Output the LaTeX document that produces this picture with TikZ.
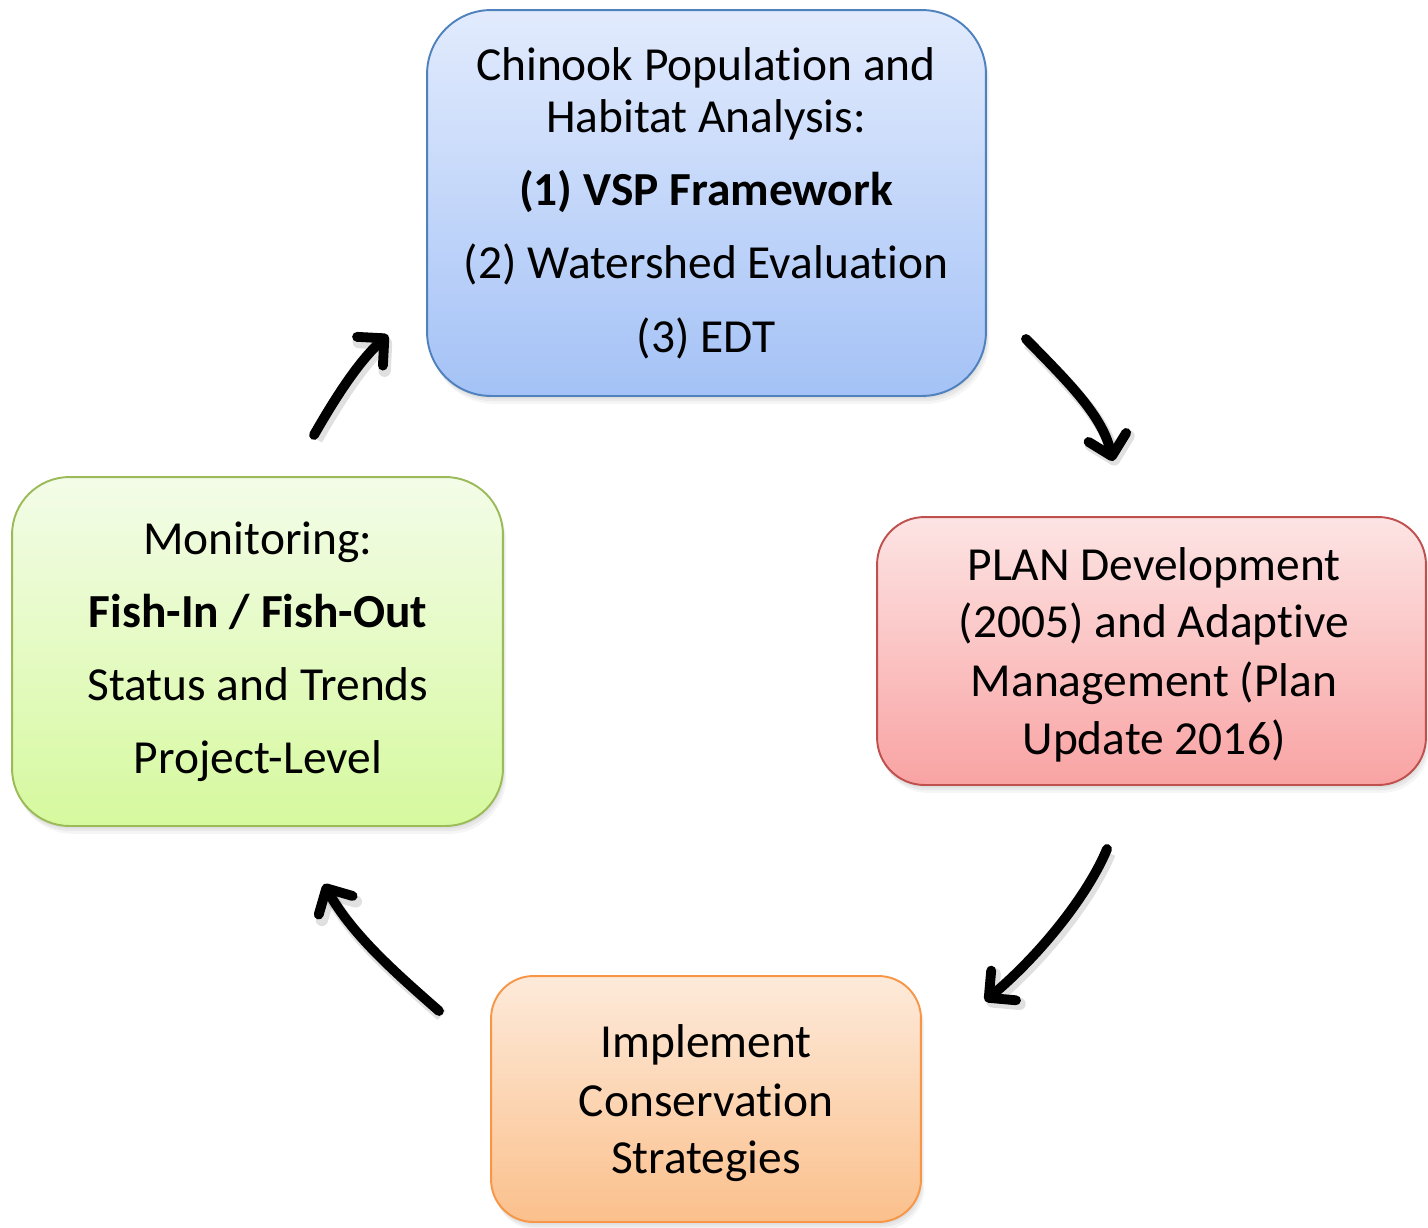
\documentclass[tikz,border=0pt]{standalone}
\usepackage{fontspec}
\setmainfont[RawFeature={-liga;-clig;-calt;-dlig}]{Carlito}
\usetikzlibrary{arrows.meta,shadows}

% stage colours
\definecolor{blueTop}{RGB}{226,235,253}
\definecolor{blueBot}{RGB}{164,194,246}
\definecolor{blueLine}{RGB}{79,129,189}
\definecolor{redTop}{RGB}{253,228,228}
\definecolor{redBot}{RGB}{249,163,163}
\definecolor{redLine}{RGB}{192,80,77}
\definecolor{orgTop}{RGB}{253,234,218}
\definecolor{orgBot}{RGB}{251,192,140}
\definecolor{orgLine}{RGB}{247,150,70}
\definecolor{grnTop}{RGB}{243,252,232}
\definecolor{grnBot}{RGB}{214,249,158}
\definecolor{grnLine}{RGB}{155,187,89}

\begin{document}
\begin{tikzpicture}[x=0.02cm, y=-0.02cm,
  stagebox/.style={rectangle, line width=1.1pt, inner sep=0pt,
    rounded corners=#1,
    drop shadow={opacity=0.10, shadow xshift=0.5pt, shadow yshift=-1.5pt},
    drop shadow={opacity=0.10, shadow xshift=1.2pt, shadow yshift=-3pt},
    drop shadow={opacity=0.08, shadow xshift=2pt, shadow yshift=-4.5pt}},
  line/.style={anchor=base, inner sep=0pt, font=\fontsize{27}{32}\selectfont},
  bline/.style={line, font=\fontsize{27}{32}\selectfont\bfseries},
  cyclearrow/.style={line width=5.6pt, line cap=round,
    -{Straight Barb[round, length=11pt, width=22pt]},
    preaction={draw=black, opacity=0.12, line width=7pt,
      transform canvas={shift={(1.5pt,-2.5pt)}}}}
]
\useasboundingbox (0,0) rectangle (1428,1228);

% the four stages
\node[stagebox=1.28cm, draw=blueLine, top color=blueTop, bottom color=blueBot,
  minimum width=11.18cm, minimum height=7.72cm] (analysis) at (706.5,203) {};
\node[stagebox=0.95cm, draw=redLine, top color=redTop, bottom color=redBot,
  minimum width=10.98cm, minimum height=5.36cm] (plan) at (1151.5,651) {};
\node[stagebox=0.85cm, draw=orgLine, top color=orgTop, bottom color=orgBot,
  minimum width=8.6cm, minimum height=4.92cm] (implement) at (706,1099) {};
\node[stagebox=1.15cm, draw=grnLine, top color=grnTop, bottom color=grnBot,
  minimum width=9.82cm, minimum height=6.98cm] (monitor) at (257.5,651.5) {};

% analysis text
\node[line]  (a1) at (706,80)  {Chinook Population and};
\node[line]  (a2) at (706,132) {Habitat Analysis:};
\node[bline] (a3) at (706,205) {(1) VSP Framework};
\node[line]  (a4) at (706,278) {(2) Watershed Evaluation};
\node[line]  (a5) at (706,352) {(3) EDT};

% plan text
\node[line] (p1) at (1154,580) {PLAN Development};
\node[line] (p2) at (1154,637) {(2005) and Adaptive};
\node[line] (p3) at (1154,696) {Management (Plan};
\node[line] (p4) at (1154,754) {Update 2016)};

% implementation text
\node[line] (i1) at (706,1057) {Implement};
\node[line] (i2) at (706,1116) {Conservation};
\node[line] (i3) at (706,1173) {Strategies};

% monitoring text
\node[line]  (m1) at (258,554) {Monitoring:};
\node[bline] (m2) at (258,627) {Fish-In / Fish-Out};
\node[line]  (m3) at (258,700) {Status and Trends};
\node[line]  (m4) at (258,773) {Project-Level};

% arrow ends
\coordinate (s1) at (1026,339);
\coordinate (e1) at (1113,461);
\coordinate (s2) at (1107,849);
\coordinate (e2) at (985,1001);
\coordinate (s3) at (439,1011);
\coordinate (e3) at (324,884);
\coordinate (s4) at (314,435);
\coordinate (e4) at (388,335);

% cycle arrows
\draw[cyclearrow] (s1) .. controls (1068,382) and (1102,415) .. (e1);
\draw[cyclearrow] (s2) .. controls (1088,895) and (1040,955) .. (e2);
\draw[cyclearrow] (s3) .. controls (398,975) and (352,935) .. (e3);
\draw[cyclearrow] (s4) .. controls (334,400) and (358,362) .. (e4);
\end{tikzpicture}
\end{document}
